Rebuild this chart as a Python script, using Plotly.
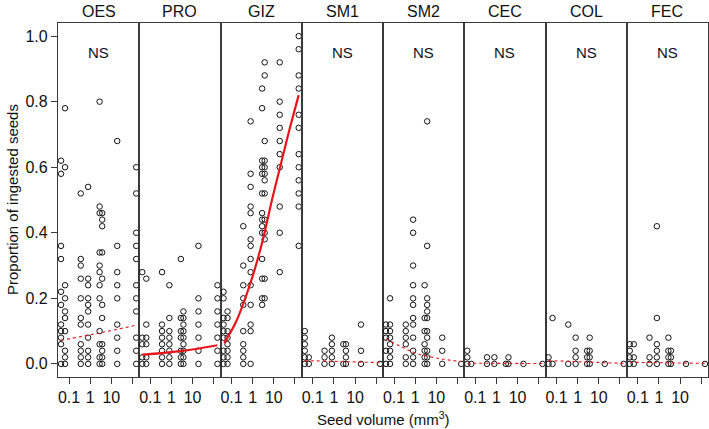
import plotly.graph_objects as go
from plotly.subplots import make_subplots

# ---------------- data ----------------
panels = ["OES", "PRO", "GIZ", "SM1", "SM2", "CEC", "COL", "FEC"]
seed_volume = [0.042, 0.065, 0.36, 0.8, 2.8, 3.7, 19, 150]  # mm3, one per seed species
ns_panels = ["OES", "SM1", "SM2", "CEC", "COL", "FEC"]

# proportions of ingested seeds, one list per seed species (same order as seed_volume)
OES = [[0.62, 0.58, 0.36, 0.32, 0.22, 0.18, 0.12, 0.10, 0.08, 0.06, 0],
       [0.78, 0.60, 0.24, 0.20, 0.16, 0.14, 0.10, 0.04, 0.02, 0],
       [0.52, 0.32, 0.30, 0.26, 0.20, 0.14, 0.12, 0.06, 0.04, 0.02, 0],
       [0.54, 0.26, 0.24, 0.20, 0.18, 0.16, 0.12, 0.08, 0.04, 0.02, 0],
       [0.80, 0.48, 0.46, 0.34, 0.30, 0.28, 0.24, 0.20, 0.10, 0.06, 0.02, 0],
       [0.46, 0.44, 0.42, 0.34, 0.26, 0.18, 0.14, 0.06, 0.04, 0.02, 0],
       [0.68, 0.36, 0.28, 0.24, 0.20, 0.12, 0.08, 0.04, 0],
       [0.60, 0.52, 0.40, 0.36, 0.32, 0.24, 0.20, 0.16, 0.08, 0.04, 0]]
PRO = [[0.28, 0.08, 0.06, 0.02, 0],
       [0.26, 0.12, 0.08, 0.06, 0.02, 0],
       [0.28, 0.12, 0.10, 0.08, 0.06, 0.04, 0.02, 0],
       [0.24, 0.14, 0.10, 0.08, 0.06, 0.04, 0.02, 0],
       [0.32, 0.14, 0.10, 0.08, 0.04, 0.02, 0],
       [0.16, 0.14, 0.12, 0.10, 0.08, 0.06, 0.04, 0.02, 0],
       [0.36, 0.20, 0.16, 0.12, 0.08, 0.04, 0],
       [0.24, 0.20, 0.16, 0.12, 0.08, 0.04, 0]]
GIZ = [[0.22, 0.20, 0.14, 0.12, 0.10, 0.08, 0.04, 0.02, 0],
       [0.16, 0.14, 0.10, 0.08, 0.06, 0.04, 0.02, 0],
       [0.42, 0.30, 0.24, 0.20, 0.18, 0.10, 0.06, 0.04, 0.02, 0],
       [0.74, 0.58, 0.54, 0.48, 0.46, 0.38, 0.36, 0.32, 0.28, 0.24, 0.18, 0.12, 0.10, 0],
       [0.84, 0.78, 0.62, 0.60, 0.58, 0.52, 0.46, 0.44, 0.42, 0.40, 0.32, 0.26, 0.20, 0.18],
       [0.92, 0.88, 0.68, 0.62, 0.60, 0.58, 0.56, 0.52, 0.44, 0.40, 0.38, 0.26, 0.20],
       [0.92, 0.80, 0.76, 0.72, 0.68, 0.64, 0.60, 0.48, 0.40, 0.28],
       [1.00, 0.96, 0.88, 0.84, 0.76, 0.72, 0.64, 0.60, 0.56, 0.52, 0.48, 0.36]]
SM1 = [[0.10, 0.08, 0.06, 0.04, 0.02, 0],
       [0.02, 0],
       [0.04, 0.02, 0],
       [0.08, 0.06, 0.04, 0.02, 0],
       [0.06, 0],
       [0.06, 0.04, 0.02, 0],
       [0.12, 0.04, 0],
       [0]]
SM2 = [[0.12, 0.10, 0.08, 0.04, 0],
       [0.20, 0.12, 0.10, 0.08, 0.06, 0.04, 0.02, 0],
       [0.12, 0.10, 0.08, 0.06, 0.02, 0],
       [0.44, 0.40, 0.30, 0.24, 0.20, 0.18, 0.14, 0.12, 0.08, 0.04, 0.02, 0],
       [0.24, 0.14, 0.10, 0.06, 0.04, 0.02, 0],
       [0.74, 0.36, 0.20, 0.18, 0.16, 0.14, 0.10, 0.08, 0.04, 0.02, 0],
       [0.08, 0.04, 0],
       [0]]
CEC = [[0.04, 0.02, 0], [0], [0.02, 0], [0.02, 0], [0], [0.02, 0], [0], [0]]
COL = [[0.02, 0], [0.14, 0], [0.12, 0], [0.08, 0.04, 0.02, 0],
       [0.04, 0.02, 0], [0.08, 0.04, 0.02, 0], [0], [0]]
FEC = [[0.06, 0.04, 0.02, 0], [0.06, 0.02, 0], [0.08, 0.02, 0],
       [0.42, 0.14, 0.06, 0.04, 0.02, 0], [0.08, 0.04, 0.02, 0],
       [0.04, 0.02, 0], [0], [0]]
panel_data = {"OES": OES, "PRO": PRO, "GIZ": GIZ, "SM1": SM1,
              "SM2": SM2, "CEC": CEC, "COL": COL, "FEC": FEC}

# fitted curves
curve_x = {"OES": [0.042, 2.6, 150], "PRO": [0.042, 2.6, 150],
           "GIZ": [0.045, 0.16, 0.81, 2.85, 8.45, 17.5, 51.6, 150],
           "SM1": [0.042, 150], "SM2": [0.042, 0.195, 1.2, 15, 150],
           "CEC": [0.042, 150], "COL": [0.042, 150], "FEC": [0.042, 150]}
curve_y = {"OES": [0.072, 0.094, 0.118], "PRO": [0.028, 0.039, 0.057],
           "GIZ": [0.064, 0.127, 0.249, 0.372, 0.504, 0.586, 0.708, 0.82],
           "SM1": [0.010, 0.004], "SM2": [0.077, 0.054, 0.032, 0.016, 0.007],
           "CEC": [0.002, 0.0012], "COL": [0.010, 0.0015], "FEC": [0.005, 0.0015]}
significant = ["PRO", "GIZ"]

y_ticks = [0.0, 0.2, 0.4, 0.6, 0.8, 1.0]
x_ticks = [0.1, 1, 10]
x_ticktext = ["0.1", "1", "10"]
x_minor_ticks = [100]

# ---------------- figure ----------------
FONT = "Liberation Sans, Arial, sans-serif"
FS = 16
frame = "#3a3a3a"
fig = make_subplots(rows=1, cols=8, shared_yaxes=True, horizontal_spacing=0)

for i, name in enumerate(panels):
    col = i + 1
    xs, ys = [], []
    for v, vals in zip(seed_volume, panel_data[name]):
        xs += [v] * len(vals)
        ys += vals
    fig.add_trace(go.Scatter(x=xs, y=ys, mode="markers",
                             marker=dict(symbol="circle-open", size=5.5, color="#111",
                                         line=dict(width=1, color="#111")),
                             showlegend=False, hoverinfo="skip"), row=1, col=col)
    sig = name in significant
    fig.add_trace(go.Scatter(x=curve_x[name], y=curve_y[name], mode="lines",
                             line=dict(color="#e8141c", width=2.2 if sig else 1.1,
                                       dash="solid" if sig else "dot", shape="spline"),
                             showlegend=False, hoverinfo="skip"), row=1, col=col)
    fig.update_xaxes(type="log", range=[-1.52, 2.32], tickvals=x_ticks, ticktext=x_ticktext,
                     ticks="outside", ticklen=6, tickcolor=frame, showgrid=False,
                     minor=dict(tickvals=x_minor_ticks, ticks="outside", ticklen=6,
                                tickcolor=frame, showgrid=False),
                     zeroline=False, showline=True, mirror=True, linecolor=frame,
                     linewidth=1.3, tickfont=dict(size=FS, color="#111", family=FONT),
                     row=1, col=col)
    fig.update_yaxes(range=[-0.04, 1.04], showgrid=False, zeroline=False, showline=True,
                     mirror=True, linecolor=frame, linewidth=1.3, row=1, col=col)
    xref = "x" if col == 1 else f"x{col}"
    yref = "y" if col == 1 else f"y{col}"
    fig.add_annotation(text=name, xref=f"{xref} domain", x=0.5, yref="paper", y=1,
                       yanchor="bottom", yshift=1, showarrow=False,
                       font=dict(size=FS, color="#111", family=FONT))
    if name in ns_panels:
        fig.add_annotation(text="NS", xref=f"{xref} domain", x=0.5, yref=yref, y=0.95,
                           showarrow=False, font=dict(size=15, color="#111", family=FONT))

fig.update_yaxes(tickvals=y_ticks, ticktext=[f"{t:.1f}" for t in y_ticks],
                 ticks="outside", ticklen=6, tickcolor=frame,
                 tickfont=dict(size=FS, color="#111", family=FONT), row=1, col=1)

fig.add_annotation(text="Proportion of ingested seeds", xref="paper", yref="paper",
                   x=-46 / 650, y=0.5, textangle=-90, showarrow=False,
                   xanchor="center", yanchor="middle",
                   font=dict(size=15, color="#111", family=FONT))
fig.add_annotation(text="Seed volume (mm<sup>3</sup>)", xref="paper", yref="paper",
                   x=0.5, y=0, yanchor="middle", yshift=-41, showarrow=False,
                   font=dict(size=15, color="#111", family=FONT))

fig.update_layout(width=709, height=429, margin=dict(l=58, r=1, t=23, b=52),
                  plot_bgcolor="white", paper_bgcolor="white",
                  font=dict(family=FONT, color="#111"))
fig.write_html("out.html", config={"displayModeBar": False},
               post_script="document.body.style.margin='0px';document.body.style.overflow='hidden';")
